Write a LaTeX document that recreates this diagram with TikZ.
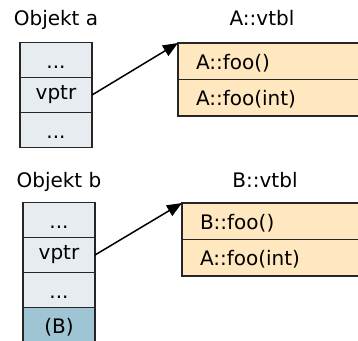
\documentclass[tikz,border=0pt]{standalone}
\usepackage{fontspec}
\setmainfont{DejaVu Sans}
\usetikzlibrary{positioning,arrows.meta}
\definecolor{objfill}{HTML}{E6ECF0}
\definecolor{basefill}{HTML}{9FC4D3}
\definecolor{tabfill}{HTML}{FFE7BF}
\tikzset{
	objrow/.style={draw=black!85,fill=objfill,line width=1.5bp,minimum width=72bp,minimum height=35bp,outer sep=0pt,inner sep=0pt},
	dotrow/.style={objrow,text height=17bp,text depth=0pt},
	tabrow/.style={draw=black!85,fill=tabfill,line width=1.5bp,text width=300bp,inner xsep=18bp,inner ysep=0pt,minimum height=36.5bp,text height=16bp,text depth=0pt,align=left,outer sep=0pt},
	ptr/.style={line width=1.5bp,-{Triangle[length=15bp,width=12bp]}}
}
\begin{document}
\begin{tikzpicture}[x=1bp,y=-1bp,font=\fontsize{20bp}{24bp}\selectfont]
		\useasboundingbox (0,0) rectangle (358,341);
		%objekt a
		\node (la) at (56,20) {Objekt a};
		\node[dotrow] (a1) at (56,60) {...};
		\node[objrow,below=0pt of a1] (a2) {vptr};
		\node[dotrow,below=0pt of a2] (a3) {...};
		%vtbl a
		\node (lva) at (262,18) {A::vtbl};
		\node[tabrow,anchor=north west] (va1) at (178,43) {A::foo()};
		\node[tabrow,below=0pt of va1] (va2) {A::foo(int)};
		%objekt b
		\node (lb) at (59,182) {Objekt b};
		\node[dotrow] (b1) at (59,220) {...};
		\node[objrow,below=0pt of b1] (b2) {vptr};
		\node[dotrow,below=0pt of b2] (b3) {...};
		\node[dotrow,fill=basefill,below=0pt of b3] (b4) {(B)};
		%vtbl b
		\node (lvb) at (265,180) {B::vtbl};
		\node[tabrow,anchor=north west] (vb1) at (182,203) {B::foo()};
		\node[tabrow,below=0pt of vb1] (vb2) {A::foo(int)};
		%pointers
		\draw[ptr] (a2.east) -- (va1.north west);
		\draw[ptr] (b2.east) -- (vb1.north west);
	\end{tikzpicture}
\end{document}
